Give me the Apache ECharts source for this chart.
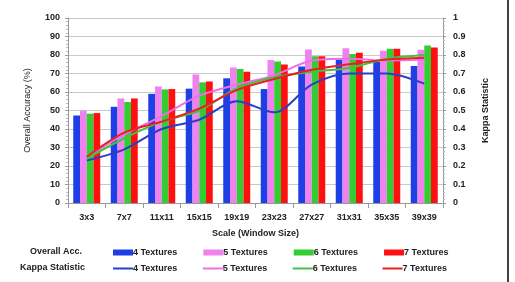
<!DOCTYPE html>
<html>
<head>
<meta charset="utf-8">
<script src="https://cdn.jsdelivr.net/npm/echarts@6/dist/echarts.min.js"></script>
<style>
html,body{margin:0;padding:0;background:#fff;}
#chart{width:515px;height:282px;}
</style>
</head>
<body>
<div id="chart"></div>
<script>
var categories = ['3x3','7x7','11x11','15x15','19x19','23x23','27x27','31x31','35x35','39x39'];
var names = ['4 Textures','5 Textures','6 Textures','7 Textures'];

// overall accuracy (%)
var acc4 = [47.3, 52, 59, 61.8, 67.4, 61.6, 73.8, 77.5, 76.2, 74];
var acc5 = [49.9, 56.5, 63, 69.5, 73.3, 77.3, 83, 83.6, 82.3, 82.9];
var acc6 = [48.3, 54.6, 61.4, 65.2, 72.4, 76.5, 79.3, 80.5, 83.4, 85.2];
var acc7 = [48.6, 56.5, 61.6, 65.7, 71, 74.8, 79.3, 81.2, 83.4, 84.1];

// kappa statistic
var kap4 = [0.23, 0.29, 0.40, 0.45, 0.55, 0.49, 0.64, 0.70, 0.70, 0.645];
var kap5 = [0.25, 0.37, 0.47, 0.58, 0.64, 0.69, 0.77, 0.78, 0.77, 0.775];
var kap6 = [0.24, 0.35, 0.44, 0.50, 0.62, 0.68, 0.71, 0.73, 0.78, 0.80];
var kap7 = [0.25, 0.38, 0.44, 0.51, 0.61, 0.67, 0.72, 0.75, 0.775, 0.785];

var barColors = ['#1f3fe6','#ee82ee','#33cc33','#ff1010'];
var lineColors = ['#2a3fc8','#ee6ee6','#44c044','#e82020'];
var font = 'Liberation Sans';

var accs = [acc4, acc5, acc6, acc7];
var kaps = [kap4, kap5, kap6, kap7];
var series = [];
for (var i = 0; i < 4; i++) {
    series.push({
        name: names[i],
        type: 'bar',
        data: accs[i],
        barGap: '0%',
        barCategoryGap: '28%',
        itemStyle: {color: barColors[i]}
    });
}
for (var j = 0; j < 4; j++) {
    series.push({
        name: names[j] + ' ',
        type: 'line',
        yAxisIndex: 1,
        data: kaps[j],
        smooth: 0.3,
        symbol: 'none',
        lineStyle: {color: lineColors[j], width: 2},
        itemStyle: {color: lineColors[j]}
    });
}

var labelStyle = {fontFamily: font, fontSize: 9, fontWeight: 'bold', color: '#222'};
var legendText = {fontFamily: font, fontSize: 9, fontWeight: 'bold', color: '#222', padding: [0, 0, 0, -5]};

var option = {
    animation: false,
    textStyle: {fontFamily: font},
    grid: {left: 68, right: 72, top: 18, bottom: 79},
    xAxis: {
        type: 'category',
        data: categories,
        axisLine: {lineStyle: {color: '#999'}},
        axisTick: {show: true, lineStyle: {color: '#999'}},
        axisLabel: Object.assign({margin: 10}, labelStyle),
        name: 'Scale (Window Size)',
        nameLocation: 'middle',
        nameGap: 26,
        nameTextStyle: labelStyle
    },
    yAxis: [{
        type: 'value',
        min: 0, max: 100, interval: 10,
        axisLine: {show: true, lineStyle: {color: '#999'}},
        axisTick: {show: true, length: 3, lineStyle: {color: '#999'}},
        minorTick: {show: true, splitNumber: 5, length: 2, lineStyle: {color: '#bbb'}},
        splitLine: {lineStyle: {color: '#c8c8c8'}},
        axisLabel: Object.assign({margin: 8}, labelStyle),
        name: 'Overall Accuracy (%)',
        nameLocation: 'middle',
        nameGap: 36,
        nameRotate: 90,
        nameTextStyle: {fontFamily: font, fontSize: 9, color: '#222'}
    }, {
        type: 'value',
        min: 0, max: 1, interval: 0.1,
        axisLine: {show: true, lineStyle: {color: '#999'}},
        axisTick: {show: true, length: 3, lineStyle: {color: '#999'}},
        minorTick: {show: true, splitNumber: 5, length: 2, lineStyle: {color: '#bbb'}},
        splitLine: {show: false},
        axisLabel: Object.assign({margin: 10}, labelStyle, {
            formatter: function (v) { return v === 0 ? '0' : (v === 1 ? '1' : v.toFixed(1)); }
        }),
        name: 'Kappa Statistic',
        nameLocation: 'middle',
        nameGap: 38,
        nameRotate: 90,
        nameTextStyle: {fontFamily: font, fontSize: 9, fontWeight: 'bold', color: '#222'}
    }],
    legend: [{
        data: names,
        left: 108, top: 243,
        itemWidth: 20, itemHeight: 6, itemGap: 26,
        icon: 'rect',
        textStyle: legendText
    }, {
        data: names.map(function (n) { return n + ' '; }),
        left: 108, top: 259,
        itemWidth: 20, itemHeight: 2, itemGap: 23,
        icon: 'rect',
        textStyle: legendText
    }],
    graphic: [{
        type: 'text', left: 30, top: 247,
        style: {text: 'Overall Acc.', font: 'bold 9px ' + font, fill: '#222'}
    }, {
        type: 'text', left: 20, top: 263,
        style: {text: 'Kappa Statistic', font: 'bold 9px ' + font, fill: '#222'}
    }, {
        type: 'line', shape: {x1: 508, y1: 0, x2: 508, y2: 282},
        style: {stroke: '#000', lineWidth: 1.5}
    }],
    series: series
};

var myChart = echarts.init(document.getElementById('chart'));
myChart.setOption(option);
</script>
</body>
</html>
